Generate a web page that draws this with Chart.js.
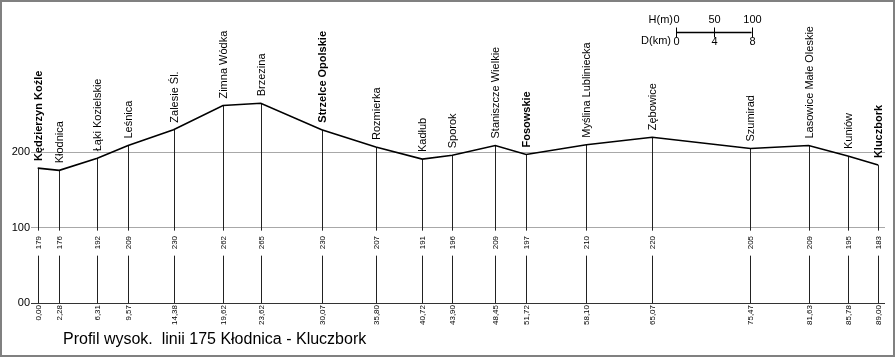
<!DOCTYPE html>
<html>
<head>
<meta charset="utf-8">
<script src="https://cdn.jsdelivr.net/npm/chart.js@4/dist/chart.umd.min.js"></script>
<style>
  body { margin: 0; background: #fff; }
  #wrap { width: 896px; height: 360px; }
</style>
</head>
<body>
<div id="wrap"><canvas id="profileChart"></canvas></div>
<script>
const stations = [
  "Kędzierzyn Koźle", "Kłodnica", "Łąki Kozielskie", "Leśnica", "Zalesie Śl.",
  "Zimna Wódka", "Brzezina", "Strzelce Opolskie", "Rozmierka", "Kadłub",
  "Sporok", "Staniszcze Wielkie", "Fosowskie", "Myślina Lubliniecka", "Zębowice",
  "Szumirad", "Lasowice Małe Oleskie", "Kuniów", "Kluczbork"
];
const km = [0.00, 2.28, 6.31, 9.57, 14.38, 19.62, 23.62, 30.07, 35.80, 40.72,
  43.90, 48.45, 51.72, 58.10, 65.07, 75.47, 81.63, 85.78, 89.00];
const heights = [179, 176, 192, 209, 230, 262, 265, 230, 207, 191,
  196, 209, 197, 210, 220, 205, 209, 195, 183];
const boldStations = ["Kędzierzyn Koźle", "Strzelce Opolskie", "Fosowskie", "Kluczbork"];
const yTicks = [0, 100, 200];
const scaleH = [0, 50, 100];
const scaleD = [0, 4, 8];
const title = "Profil wysok.  linii 175 Kłodnica - Kluczbork";

const FONT = '"Liberation Sans", Arial, sans-serif';

// tekst pionowy (obrócony o -90 st.)
function vText(ctx, text, px, py, align, font) {
  ctx.save();
  ctx.translate(px, py);
  ctx.rotate(-Math.PI / 2);
  ctx.font = font;
  ctx.textAlign = align;
  ctx.textBaseline = "middle";
  ctx.fillStyle = "#000";
  ctx.fillText(text, 0, 0);
  ctx.restore();
}

const profileLabels = {
  id: "profileLabels",
  beforeDatasetsDraw(chart) {
    const { ctx } = chart;
    const x = chart.scales.x;
    const y = chart.scales.y;
    const base = y.getPixelForValue(0);
    const gapTop = y.getPixelForValue(100) + 3;
    const gapBottom = gapTop + 25;
    ctx.save();
    ctx.strokeStyle = "#222";
    ctx.lineWidth = 1;
    km.forEach((d, i) => {
      const px = Math.round(x.getPixelForValue(d)) + 0.5;
      const py = y.getPixelForValue(heights[i]);
      ctx.beginPath();
      ctx.moveTo(px, py);
      ctx.lineTo(px, gapTop);
      ctx.moveTo(px, gapBottom);
      ctx.lineTo(px, base);
      ctx.stroke();
    });
    ctx.restore();
  },
  afterDraw(chart) {
    const { ctx } = chart;
    const x = chart.scales.x;
    const y = chart.scales.y;
    const base = y.getPixelForValue(0);
    const gapTop = y.getPixelForValue(100) + 3;

    km.forEach((d, i) => {
      const px = Math.round(x.getPixelForValue(d)) + 0.5;
      const py = y.getPixelForValue(heights[i]);
      const bold = boldStations.includes(stations[i]);
      vText(ctx, stations[i], px, py - 7, "left", (bold ? "bold " : "") + "11px " + FONT);
      vText(ctx, String(heights[i]), px, gapTop + 12, "center", "8px " + FONT);
      vText(ctx, d.toFixed(2).replace(".", ","), px, base + 2, "right", "8px " + FONT);
    });

    // tytuł
    ctx.save();
    ctx.font = "16px " + FONT;
    ctx.fillStyle = "#000";
    ctx.textBaseline = "middle";
    ctx.fillText(title, 63, 340);
    ctx.restore();

    // podziałka H / D
    const x0 = 676;
    const len = x.getPixelForValue(scaleD[scaleD.length - 1]) - x.getPixelForValue(0);
    const barY = 32.5;
    ctx.save();
    ctx.strokeStyle = "#000";
    ctx.lineWidth = 1.5;
    ctx.beginPath();
    ctx.moveTo(x0, barY);
    ctx.lineTo(x0 + len, barY);
    ctx.stroke();
    ctx.lineWidth = 1;
    ctx.font = "11px " + FONT;
    ctx.fillStyle = "#000";
    ctx.textBaseline = "middle";
    scaleD.forEach((v, i) => {
      const tx = Math.round(x0 + len * v / scaleD[scaleD.length - 1]) + 0.5;
      ctx.beginPath();
      ctx.moveTo(tx, barY - 5);
      ctx.lineTo(tx, barY + 5);
      ctx.stroke();
      ctx.textAlign = "center";
      ctx.fillText(String(scaleH[i]), tx, 20);
      ctx.fillText(String(v), tx, 42);
    });
    ctx.textAlign = "right";
    ctx.fillText("H(m)", x0 - 3, 20);
    ctx.fillText("D(km)", x0 - 5, 41);
    ctx.restore();

    // ramka
    ctx.save();
    ctx.strokeStyle = "#808080";
    ctx.lineWidth = 2;
    ctx.strokeRect(1, 1, 893, 355);
    ctx.restore();
  }
};

new Chart(document.getElementById("profileChart"), {
  type: "line",
  data: {
    datasets: [
      {
        data: km.map((d, i) => ({ x: d, y: heights[i] })),
        borderColor: "#000",
        borderWidth: 1.6,
        pointRadius: 0,
        tension: 0,
        fill: false,
      },
    ],
  },
  options: {
    responsive: true,
    maintainAspectRatio: false,
    animation: false,
    layout: { padding: { top: 1, right: 11, bottom: 57, left: 11 } },
    plugins: {
      legend: { display: false },
      tooltip: { enabled: false },
    },
    scales: {
      x: {
        type: "linear",
        display: false,
        min: -0.71,
        max: 89.72,
      },
      y: {
        min: 0,
        max: 392,
        afterBuildTicks: (s) => {
          s.ticks = yTicks.map((v) => ({ value: v }));
        },
        afterFit: (s) => {
          s.width = 20;
        },
        border: { display: false },
        grid: {
          drawTicks: false,
          lineWidth: 1,
          color: (c) => (c.tick && c.tick.value === 0 ? "#333" : "#a8a8a8"),
        },
        ticks: {
          padding: 1,
          color: "#000",
          font: { size: 11, family: FONT },
          callback: (v) => (v === 0 ? "00" : String(v)),
        },
      },
    },
  },
  plugins: [profileLabels],
});
</script>
</body>
</html>
